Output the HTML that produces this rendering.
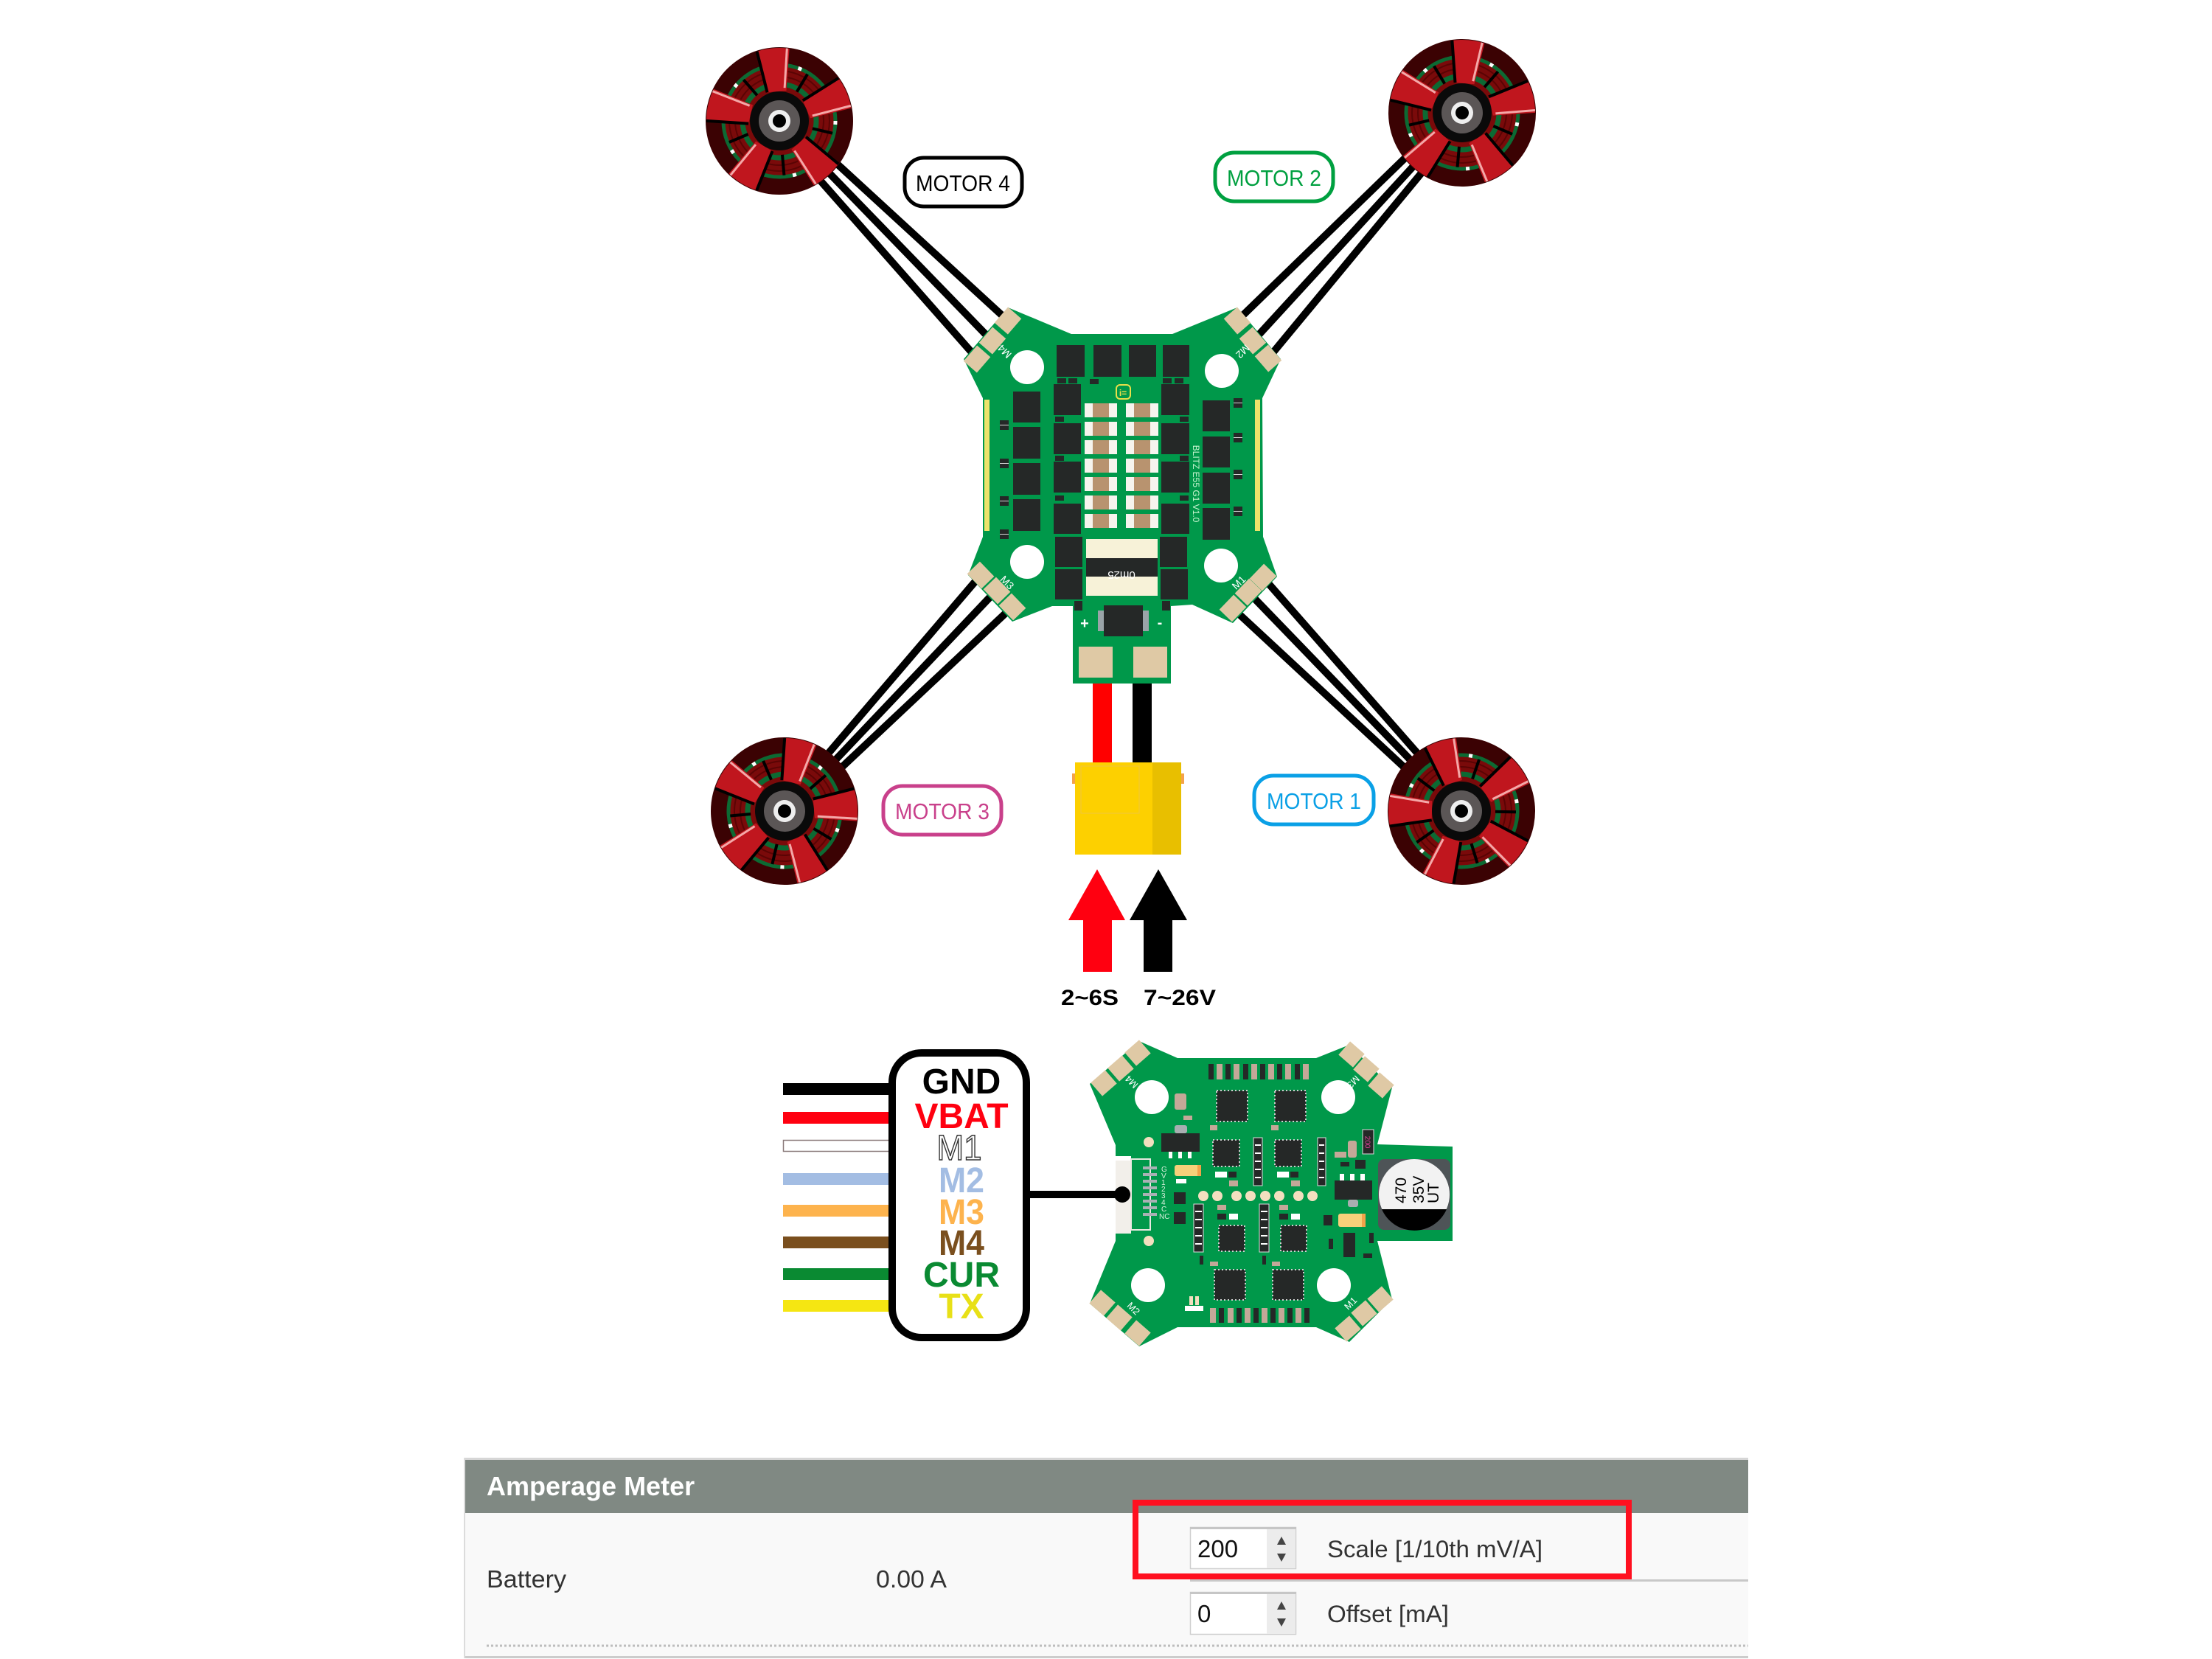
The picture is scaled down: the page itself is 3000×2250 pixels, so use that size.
<!DOCTYPE html>
<html><head><meta charset="utf-8"><style>
html,body{margin:0;padding:0;background:#fff;}
svg{display:block;}
</style></head><body>
<svg xmlns="http://www.w3.org/2000/svg" width="3000" height="2250" viewBox="0 0 3000 2250" font-family="Liberation Sans, Arial, sans-serif">
<defs>
<clipPath id="mclip"><circle r="99"/></clipPath>
<g id="blade">
  <polygon points="-13,-40 13,-40 23,-102 -23,-102" fill="#c0161e"/>
  <line x1="-13" y1="-40" x2="-23" y2="-102" stroke="#000" stroke-width="4"/>
  <line x1="11" y1="-44" x2="19" y2="-98" stroke="#f4a8a8" stroke-width="3"/>
</g>
<g id="motor">
  <circle r="100" fill="#3b0203"/>
  <circle r="78" fill="#7a0a0a"/>
  <circle r="68" fill="none" stroke="#5a0404" stroke-width="2"/>
  <circle r="60" fill="none" stroke="#5a0404" stroke-width="2"/>
  <circle r="76" fill="none" stroke="#0c6a33" stroke-width="5"/>
  <circle r="76" fill="none" stroke="#ffffff" stroke-width="5" stroke-dasharray="5 43"/>
  <circle r="50" fill="none" stroke="#0c6a33" stroke-width="7"/>
  <g stroke="#000" stroke-width="4">
    <line x1="0" y1="-46" x2="0" y2="-74" transform="rotate(31)"/>
    <line x1="0" y1="-46" x2="0" y2="-74" transform="rotate(103)"/>
    <line x1="0" y1="-46" x2="0" y2="-74" transform="rotate(175)"/>
    <line x1="0" y1="-46" x2="0" y2="-74" transform="rotate(247)"/>
    <line x1="0" y1="-46" x2="0" y2="-74" transform="rotate(319)"/>
  </g>
  <g clip-path="url(#mclip)">
    <use href="#blade" transform="rotate(-5)"/>
    <use href="#blade" transform="rotate(67)"/>
    <use href="#blade" transform="rotate(139)"/>
    <use href="#blade" transform="rotate(211)"/>
    <use href="#blade" transform="rotate(283)"/>
  </g>
  <circle r="40" fill="#0a0a0a"/>
  <circle r="28" fill="#5b5656"/>
  <circle r="15" fill="#eeeeee"/>
  <circle r="9" fill="#000"/>
</g>
<g id="cap">
  <rect x="0" y="0" width="44" height="19" fill="#f6f4ee"/>
  <rect x="11" y="0" width="22" height="19" fill="#b8936f"/>
</g>
</defs>

<g stroke="#000" stroke-width="10" fill="none">
  <line x1="1135" y1="222" x2="1367" y2="435"/>
  <line x1="1122" y1="232" x2="1346" y2="463"/>
  <line x1="1110" y1="242" x2="1325" y2="486"/>
  <line x1="1908" y1="212" x2="1678" y2="435"/>
  <line x1="1920" y1="222" x2="1699" y2="463"/>
  <line x1="1930" y1="232" x2="1720" y2="486"/>
  <line x1="1118" y1="1028" x2="1330" y2="780"/>
  <line x1="1128" y1="1036" x2="1352" y2="800"/>
  <line x1="1138" y1="1044" x2="1373" y2="823"/>
  <line x1="1908" y1="1044" x2="1672" y2="825"/>
  <line x1="1918" y1="1036" x2="1693" y2="803"/>
  <line x1="1928" y1="1028" x2="1713" y2="783"/>
</g>

<use href="#motor" transform="translate(1057,164)"/>
<use href="#motor" transform="translate(1983,153) rotate(10)"/>
<use href="#motor" transform="translate(1064,1100) rotate(18)"/>
<use href="#motor" transform="translate(1982,1100) rotate(-12)"/>

<rect x="1227" y="214" width="159" height="66" rx="26" fill="#fff" stroke="#000" stroke-width="5"/>
<text x="1306" y="259" font-size="31" text-anchor="middle" textLength="128" lengthAdjust="spacingAndGlyphs" fill="#000">MOTOR 4</text>
<rect x="1648" y="207" width="160" height="66" rx="26" fill="#fff" stroke="#00a040" stroke-width="5"/>
<text x="1728" y="252" font-size="31" text-anchor="middle" textLength="128" lengthAdjust="spacingAndGlyphs" fill="#00a040">MOTOR 2</text>
<rect x="1198" y="1066" width="160" height="66" rx="26" fill="#fff" stroke="#c9408b" stroke-width="5"/>
<text x="1278" y="1111" font-size="31" text-anchor="middle" textLength="128" lengthAdjust="spacingAndGlyphs" fill="#c9408b">MOTOR 3</text>
<rect x="1701" y="1052" width="162" height="66" rx="26" fill="#fff" stroke="#0aa0e6" stroke-width="5"/>
<text x="1782" y="1097" font-size="31" text-anchor="middle" textLength="128" lengthAdjust="spacingAndGlyphs" fill="#0aa0e6">MOTOR 1</text>

<rect x="1482" y="922" width="26" height="114" fill="#ff0000"/>
<rect x="1536" y="922" width="26" height="114" fill="#000"/>

<polygon points="1453,453 1367,417 1307,487 1333,540 1333,728 1313,780 1373,843 1427,822 1455,822 1455,927 1588,927 1588,822 1617,820 1672,845 1732,782 1713,728 1712,540 1737,487 1678,417 1590,453" fill="#00984a"/>
<g fill="#dfc9a5">
  <rect x="-14" y="-12" width="28" height="24" transform="translate(1367,435) rotate(-49)"/>
  <rect x="-14" y="-12" width="28" height="24" transform="translate(1346,462) rotate(-49)"/>
  <rect x="-14" y="-12" width="28" height="24" transform="translate(1325,487) rotate(-49)"/>
  <rect x="-14" y="-12" width="28" height="24" transform="translate(1678,435) rotate(49)"/>
  <rect x="-14" y="-12" width="28" height="24" transform="translate(1699,462) rotate(49)"/>
  <rect x="-14" y="-12" width="28" height="24" transform="translate(1720,486) rotate(49)"/>
  <rect x="-14" y="-12" width="28" height="24" transform="translate(1330,780) rotate(46)"/>
  <rect x="-14" y="-12" width="28" height="24" transform="translate(1352,801) rotate(46)"/>
  <rect x="-14" y="-12" width="28" height="24" transform="translate(1373,823) rotate(46)"/>
  <rect x="-14" y="-12" width="28" height="24" transform="translate(1713,783) rotate(-46)"/>
  <rect x="-14" y="-12" width="28" height="24" transform="translate(1693,803) rotate(-46)"/>
  <rect x="-14" y="-12" width="28" height="24" transform="translate(1672,825) rotate(-46)"/>
  <rect x="1463" y="877" width="46" height="42"/>
  <rect x="1537" y="877" width="46" height="42"/>
</g>
<g fill="#fff">
  <circle cx="1393" cy="498" r="23"/>
  <circle cx="1657" cy="503" r="23"/>
  <circle cx="1393" cy="762" r="23"/>
  <circle cx="1656" cy="767" r="23"/>
</g>
<rect x="1335" y="542" width="7" height="178" fill="#ece36a"/>
<rect x="1702" y="542" width="7" height="178" fill="#ece36a"/>
<g fill="#252827">
  <rect x="1433" y="468" width="38" height="43"/>
  <rect x="1483" y="468" width="38" height="43"/>
  <rect x="1531" y="468" width="37" height="43"/>
  <rect x="1577" y="468" width="36" height="43"/>
  <rect x="1374" y="531" width="37" height="42"/>
  <rect x="1374" y="579" width="37" height="43"/>
  <rect x="1374" y="628" width="37" height="43"/>
  <rect x="1374" y="677" width="37" height="43"/>
  <rect x="1429" y="521" width="37" height="42"/>
  <rect x="1429" y="574" width="37" height="42"/>
  <rect x="1429" y="626" width="37" height="42"/>
  <rect x="1429" y="683" width="37" height="41"/>
  <rect x="1431" y="728" width="37" height="41"/>
  <rect x="1431" y="772" width="37" height="41"/>
  <rect x="1575" y="521" width="38" height="42"/>
  <rect x="1575" y="574" width="38" height="42"/>
  <rect x="1575" y="626" width="38" height="42"/>
  <rect x="1575" y="683" width="38" height="41"/>
  <rect x="1573" y="728" width="37" height="41"/>
  <rect x="1574" y="772" width="37" height="41"/>
  <rect x="1631" y="543" width="37" height="42"/>
  <rect x="1631" y="592" width="37" height="42"/>
  <rect x="1631" y="641" width="37" height="42"/>
  <rect x="1631" y="689" width="37" height="43"/>
  <rect x="1434" y="513" width="12" height="7"/>
  <rect x="1449" y="513" width="12" height="7"/>
  <rect x="1478" y="514" width="12" height="7"/>
  <rect x="1577" y="513" width="12" height="7"/>
  <rect x="1593" y="513" width="12" height="7"/>
  <rect x="1431" y="565" width="12" height="7"/>
  <rect x="1431" y="618" width="12" height="7"/>
  <rect x="1431" y="672" width="12" height="7"/>
  <rect x="1600" y="565" width="12" height="7"/>
  <rect x="1600" y="618" width="12" height="7"/>
  <rect x="1600" y="672" width="12" height="7"/>
  <rect x="1356" y="570" width="12" height="13"/>
  <rect x="1356" y="622" width="12" height="13"/>
  <rect x="1356" y="673" width="12" height="13"/>
  <rect x="1356" y="718" width="12" height="13"/>
  <rect x="1673" y="540" width="12" height="13"/>
  <rect x="1673" y="587" width="12" height="13"/>
  <rect x="1673" y="637" width="12" height="13"/>
  <rect x="1673" y="687" width="12" height="13"/>
  <rect x="1457" y="815" width="11" height="13"/>
  <rect x="1576" y="815" width="11" height="13"/>
</g>
<g stroke="#d8d8d8" stroke-width="1">
  <line x1="1356" y1="576.5" x2="1368" y2="576.5"/><line x1="1356" y1="628.5" x2="1368" y2="628.5"/>
  <line x1="1356" y1="679.5" x2="1368" y2="679.5"/><line x1="1356" y1="724.5" x2="1368" y2="724.5"/>
  <line x1="1673" y1="546.5" x2="1685" y2="546.5"/><line x1="1673" y1="593.5" x2="1685" y2="593.5"/>
  <line x1="1673" y1="643.5" x2="1685" y2="643.5"/><line x1="1673" y1="693.5" x2="1685" y2="693.5"/>
</g>
<use href="#cap" x="1471" y="547"/><use href="#cap" x="1527" y="547"/>
<use href="#cap" x="1471" y="572"/><use href="#cap" x="1527" y="572"/>
<use href="#cap" x="1471" y="597"/><use href="#cap" x="1527" y="597"/>
<use href="#cap" x="1471" y="622"/><use href="#cap" x="1527" y="622"/>
<use href="#cap" x="1471" y="647"/><use href="#cap" x="1527" y="647"/>
<use href="#cap" x="1471" y="672"/><use href="#cap" x="1527" y="672"/>
<use href="#cap" x="1471" y="697"/><use href="#cap" x="1527" y="697"/>
<rect x="1473" y="731" width="97" height="26" fill="#f7f2d8"/>
<rect x="1473" y="757" width="97" height="25" fill="#252827"/>
<rect x="1473" y="782" width="97" height="26" fill="#f7f2d8"/>
<text x="1521" y="763" font-size="15" fill="#fff" text-anchor="middle" transform="rotate(180,1521,769)">0m25</text>
<rect x="1489" y="828" width="8" height="28" fill="#9aa4a8"/>
<rect x="1550" y="828" width="8" height="28" fill="#9aa4a8"/>
<rect x="1497" y="821" width="53" height="42" fill="#252827"/>
<text x="1471" y="852" font-size="20" fill="#fff" text-anchor="middle" font-weight="bold">+</text>
<text x="1573" y="851" font-size="20" fill="#fff" text-anchor="middle" font-weight="bold">-</text>
<rect x="1514" y="522" width="19" height="19" rx="5" fill="none" stroke="#e9e04a" stroke-width="2"/>
<text x="1523" y="537" font-size="12" fill="#e9e04a" text-anchor="middle" font-weight="bold">i=</text>
<text x="1618" y="656" font-size="12" fill="#c8f5d0" text-anchor="middle" transform="rotate(90,1618,656)">BLITZ E55 G1 V1.0</text>
<text x="1363" y="480" font-size="14" fill="#fff" text-anchor="middle" transform="rotate(225,1363,476)">M4</text>
<text x="1685" y="480" font-size="14" fill="#fff" text-anchor="middle" transform="rotate(135,1685,476)">M2</text>
<text x="1366" y="795" font-size="14" fill="#fff" text-anchor="middle" transform="rotate(45,1366,790)">M3</text>
<text x="1680" y="795" font-size="14" fill="#fff" text-anchor="middle" transform="rotate(-45,1680,790)">M1</text>

<rect x="1458" y="1034" width="105" height="125" fill="#fdd000"/>
<rect x="1563" y="1034" width="39" height="125" fill="#e8bf00"/>
<rect x="1454" y="1049" width="4" height="14" fill="#f4a34a"/>
<rect x="1602" y="1049" width="4" height="14" fill="#f4a34a"/>
<rect x="1466" y="1039" width="79" height="64" fill="none" stroke="#efc640" stroke-width="1"/>

<polygon points="1488,1179 1526,1248 1508,1248 1508,1318 1469,1318 1469,1248 1449,1248" fill="#ff0010"/>
<polygon points="1571,1179 1610,1248 1590,1248 1590,1318 1551,1318 1551,1248 1532,1248" fill="#000"/>
<text x="1439" y="1363" font-size="30" font-weight="bold" textLength="78" lengthAdjust="spacingAndGlyphs">2~6S</text>
<text x="1551" y="1363" font-size="30" font-weight="bold" textLength="98" lengthAdjust="spacingAndGlyphs">7~26V</text>

<rect x="1062" y="1469" width="145" height="16" fill="#000"/>
<rect x="1062" y="1508" width="145" height="16" fill="#ff0010"/>
<rect x="1062.5" y="1546.5" width="144" height="15" fill="#fff" stroke="#8a7a7a" stroke-width="1.5"/>
<rect x="1062" y="1591" width="145" height="16" fill="#a3bde3"/>
<rect x="1062" y="1634" width="145" height="16" fill="#fdb34d"/>
<rect x="1062" y="1677" width="145" height="16" fill="#7a4f1e"/>
<rect x="1062" y="1720" width="145" height="16" fill="#0a8a32"/>
<rect x="1062" y="1763" width="145" height="16" fill="#f5e612"/>
<rect x="1210" y="1428" width="182" height="386" rx="40" fill="#fff" stroke="#000" stroke-width="10"/>
<g font-size="48" font-weight="bold" text-anchor="middle">
  <text x="1304" y="1483" fill="#000">GND</text>
  <text x="1304" y="1530" fill="#ff0010">VBAT</text>
  <text x="1301" y="1573" fill="#fff" stroke="#333" stroke-width="1.5" font-weight="normal" textLength="61" lengthAdjust="spacingAndGlyphs">M1</text>
  <text x="1304" y="1617" fill="#a3bde3" textLength="62" lengthAdjust="spacingAndGlyphs">M2</text>
  <text x="1304" y="1660" fill="#fdb34d" textLength="62" lengthAdjust="spacingAndGlyphs">M3</text>
  <text x="1304" y="1702" fill="#7a4f1e" textLength="62" lengthAdjust="spacingAndGlyphs">M4</text>
  <text x="1304" y="1745" fill="#0a8a32">CUR</text>
  <text x="1304" y="1788" fill="#e8e017">TX</text>
</g>
<line x1="1397" y1="1620" x2="1522" y2="1620" stroke="#000" stroke-width="10"/>

<polygon points="1545,1412 1478,1470 1513,1553 1513,1683 1478,1768 1545,1826 1597,1800 1785,1800 1830,1820 1888,1762 1868,1683 1970,1683 1970,1555 1868,1552 1888,1475 1830,1417 1785,1435 1597,1435" fill="#00984a"/>
<g fill="#dfc9a5">
  <rect x="-13" y="-12" width="26" height="24" transform="translate(1543,1428) rotate(-41)"/>
  <rect x="-13" y="-12" width="26" height="24" transform="translate(1520,1449) rotate(-41)"/>
  <rect x="-13" y="-12" width="26" height="24" transform="translate(1497,1469) rotate(-41)"/>
  <rect x="-13" y="-12" width="26" height="24" transform="translate(1833,1430) rotate(41)"/>
  <rect x="-13" y="-12" width="26" height="24" transform="translate(1853,1450) rotate(41)"/>
  <rect x="-13" y="-12" width="26" height="24" transform="translate(1873,1472) rotate(41)"/>
  <rect x="-13" y="-12" width="26" height="24" transform="translate(1495,1767) rotate(41)"/>
  <rect x="-13" y="-12" width="26" height="24" transform="translate(1518,1787) rotate(41)"/>
  <rect x="-13" y="-12" width="26" height="24" transform="translate(1543,1808) rotate(41)"/>
  <rect x="-13" y="-12" width="26" height="24" transform="translate(1872,1762) rotate(-41)"/>
  <rect x="-13" y="-12" width="26" height="24" transform="translate(1850,1781) rotate(-41)"/>
  <rect x="-13" y="-12" width="26" height="24" transform="translate(1828,1802) rotate(-41)"/>
</g>
<g fill="#fff">
  <circle cx="1562" cy="1488" r="23"/>
  <circle cx="1815" cy="1488" r="23"/>
  <circle cx="1557" cy="1743" r="23"/>
  <circle cx="1809" cy="1743" r="23"/>
</g>
<g font-size="13" fill="#fff" text-anchor="middle">
  <text x="1535" y="1471" transform="rotate(225,1535,1467)">M4</text>
  <text x="1835" y="1471" transform="rotate(135,1835,1467)">M3</text>
  <text x="1537" y="1779" transform="rotate(45,1537,1775)">M2</text>
  <text x="1832" y="1772" transform="rotate(-45,1832,1768)">M1</text>
</g>
<g>
  <rect x="1639" y="1443" width="7" height="21" fill="#252827"/><rect x="1650" y="1443" width="8" height="21" fill="#c4a898"/>
  <rect x="1662" y="1443" width="7" height="21" fill="#252827"/><rect x="1673" y="1443" width="8" height="21" fill="#c4a898"/>
  <rect x="1686" y="1443" width="7" height="21" fill="#252827"/><rect x="1697" y="1443" width="8" height="21" fill="#c4a898"/>
  <rect x="1709" y="1443" width="7" height="21" fill="#252827"/><rect x="1720" y="1443" width="8" height="21" fill="#c4a898"/>
  <rect x="1732" y="1443" width="7" height="21" fill="#252827"/><rect x="1743" y="1443" width="8" height="21" fill="#c4a898"/>
  <rect x="1756" y="1443" width="7" height="21" fill="#252827"/><rect x="1767" y="1443" width="8" height="21" fill="#c4a898"/>
  <rect x="1641" y="1774" width="8" height="20" fill="#c4a898"/><rect x="1653" y="1774" width="7" height="20" fill="#252827"/>
  <rect x="1665" y="1774" width="8" height="20" fill="#c4a898"/><rect x="1677" y="1774" width="7" height="20" fill="#252827"/>
  <rect x="1688" y="1774" width="8" height="20" fill="#c4a898"/><rect x="1700" y="1774" width="7" height="20" fill="#252827"/>
  <rect x="1711" y="1774" width="8" height="20" fill="#c4a898"/><rect x="1723" y="1774" width="7" height="20" fill="#252827"/>
  <rect x="1734" y="1774" width="8" height="20" fill="#c4a898"/><rect x="1746" y="1774" width="7" height="20" fill="#252827"/>
  <rect x="1757" y="1774" width="8" height="20" fill="#c4a898"/><rect x="1769" y="1774" width="7" height="20" fill="#252827"/>
</g>
<g fill="#252827" stroke="#d0d0d0" stroke-width="2" stroke-dasharray="2 3">
  <rect x="1650" y="1479" width="42" height="42"/>
  <rect x="1729" y="1479" width="42" height="42"/>
  <rect x="1645" y="1546" width="36" height="36"/>
  <rect x="1729" y="1546" width="36" height="36"/>
  <rect x="1653" y="1662" width="35" height="35"/>
  <rect x="1737" y="1662" width="35" height="35"/>
  <rect x="1647" y="1722" width="42" height="41"/>
  <rect x="1726" y="1722" width="42" height="41"/>
</g>
<g fill="#252827" stroke="#e0e0e0" stroke-width="1">
  <rect x="1700" y="1543" width="12" height="65"/>
  <rect x="1787" y="1543" width="11" height="65"/>
  <rect x="1619" y="1633" width="13" height="65"/>
  <rect x="1708" y="1633" width="13" height="65"/>
</g>
<g fill="#fff">
  <rect x="1702" y="1552" width="8" height="2"/><rect x="1702" y="1563" width="8" height="2"/><rect x="1702" y="1574" width="8" height="2"/><rect x="1702" y="1585" width="8" height="2"/><rect x="1702" y="1596" width="8" height="2"/>
  <rect x="1789" y="1552" width="7" height="2"/><rect x="1789" y="1563" width="7" height="2"/><rect x="1789" y="1574" width="7" height="2"/><rect x="1789" y="1585" width="7" height="2"/><rect x="1789" y="1596" width="7" height="2"/>
  <rect x="1621" y="1642" width="9" height="2"/><rect x="1621" y="1653" width="9" height="2"/><rect x="1621" y="1664" width="9" height="2"/><rect x="1621" y="1675" width="9" height="2"/><rect x="1621" y="1686" width="9" height="2"/>
  <rect x="1710" y="1642" width="9" height="2"/><rect x="1710" y="1653" width="9" height="2"/><rect x="1710" y="1664" width="9" height="2"/><rect x="1710" y="1675" width="9" height="2"/><rect x="1710" y="1686" width="9" height="2"/>
</g>
<g fill="#f3dfbf">
  <circle cx="1632" cy="1622" r="7"/><circle cx="1651" cy="1622" r="7"/><circle cx="1677" cy="1622" r="7"/><circle cx="1696" cy="1622" r="7"/>
  <circle cx="1716" cy="1622" r="7"/><circle cx="1735" cy="1622" r="7"/><circle cx="1761" cy="1622" r="7"/><circle cx="1780" cy="1622" r="7"/>
  <circle cx="1558" cy="1549" r="7"/><circle cx="1558" cy="1683" r="7"/>
</g>
<rect x="1593" y="1483" width="16" height="22" rx="3" fill="#c4a898"/>
<rect x="1605" y="1513" width="12" height="6" fill="#c4a898"/>
<rect x="1593" y="1526" width="17" height="11" rx="3" fill="#a8aeb0"/>
<rect x="1575" y="1537" width="52" height="25" fill="#252827"/>
<rect x="1585" y="1562" width="5" height="9" fill="#fff"/><rect x="1598" y="1562" width="5" height="9" fill="#fff"/><rect x="1611" y="1562" width="5" height="9" fill="#fff"/>
<rect x="1593" y="1580" width="36" height="15" rx="3" fill="#f7d07a"/>
<rect x="1624" y="1580" width="5" height="15" fill="#f2a24a"/>
<rect x="1595" y="1599" width="14" height="6" fill="#fff"/>
<rect x="1592" y="1617" width="16" height="16" fill="#252827"/>
<rect x="1592" y="1644" width="16" height="16" fill="#252827"/>
<rect x="1648" y="1589" width="16" height="8" fill="#fff"/><rect x="1666" y="1589" width="11" height="8" fill="#252827"/>
<rect x="1732" y="1589" width="16" height="8" fill="#fff"/><rect x="1750" y="1589" width="11" height="8" fill="#252827"/>
<rect x="1667" y="1601" width="12" height="8" fill="#c4a898"/><rect x="1751" y="1601" width="12" height="8" fill="#c4a898"/>
<rect x="1651" y="1646" width="12" height="8" fill="#252827"/><rect x="1667" y="1646" width="12" height="8" fill="#fff"/>
<rect x="1735" y="1646" width="12" height="8" fill="#252827"/><rect x="1751" y="1646" width="12" height="8" fill="#fff"/>
<rect x="1651" y="1634" width="12" height="7" fill="#c4a898"/><rect x="1735" y="1634" width="12" height="7" fill="#c4a898"/>
<rect x="1641" y="1526" width="10" height="7" fill="#c4a898"/><rect x="1724" y="1526" width="10" height="7" fill="#c4a898"/>
<rect x="1627" y="1703" width="5" height="12" fill="#252827"/><rect x="1712" y="1703" width="5" height="12" fill="#252827"/>
<rect x="1641" y="1711" width="11" height="6" fill="#c4a898"/><rect x="1725" y="1711" width="11" height="6" fill="#c4a898"/>
<rect x="1613" y="1758" width="5" height="12" fill="#f3dfbf"/><rect x="1621" y="1758" width="5" height="12" fill="#f3dfbf"/>
<rect x="1607" y="1771" width="25" height="7" fill="#fff"/>
<rect x="1810" y="1562" width="16" height="8" fill="#c4a898"/>
<rect x="1828" y="1547" width="12" height="23" rx="3" fill="#c4a898"/>
<rect x="1848" y="1532" width="15" height="33" fill="#252827" stroke="#ddd" stroke-width="1"/>
<text x="1855.5" y="1553" font-size="10" fill="#e0409a" text-anchor="middle" transform="rotate(90,1855.5,1549)">200</text>
<rect x="1818" y="1576" width="12" height="6" fill="#252827"/><rect x="1838" y="1573" width="14" height="12" fill="#252827"/>
<rect x="1817" y="1592" width="6" height="9" fill="#fff"/><rect x="1831" y="1592" width="6" height="9" fill="#fff"/><rect x="1845" y="1592" width="6" height="9" fill="#fff"/>
<rect x="1810" y="1601" width="51" height="26" fill="#252827"/>
<rect x="1828" y="1627" width="14" height="10" rx="3" fill="#a8aeb0"/>
<rect x="1815" y="1646" width="37" height="18" rx="3" fill="#f7d07a"/>
<rect x="1847" y="1646" width="5" height="18" fill="#f2a24a"/>
<rect x="1795" y="1648" width="12" height="14" fill="#252827"/>
<rect x="1822" y="1672" width="16" height="33" fill="#252827"/>
<rect x="1802" y="1680" width="6" height="14" fill="#252827"/><rect x="1857" y="1672" width="6" height="14" fill="#252827"/><rect x="1849" y="1700" width="12" height="6" fill="#252827"/>
<rect x="1869" y="1572" width="98" height="96" rx="8" fill="#4e5457"/>
<circle cx="1918" cy="1620" r="48" fill="#f2f2f2"/>
<path d="M1874,1640 A48,48 0 0 0 1962,1640 Z" fill="#000"/>
<g font-size="21" fill="#000">
  <text transform="translate(1907,1632) rotate(-90)">470</text>
  <text transform="translate(1931,1632) rotate(-90)">35V</text>
  <text transform="translate(1951,1632) rotate(-90)">UT</text>
</g>
<rect x="1513" y="1568" width="21" height="105" fill="#f2efea"/>
<rect x="1513" y="1568" width="21" height="6" fill="#fff"/>
<rect x="1534" y="1572" width="26" height="96" fill="none" stroke="#e8e8e0" stroke-width="2"/>
<g fill="#a9b1b4">
  <rect x="1550" y="1582" width="19" height="4"/><rect x="1550" y="1591" width="19" height="4"/>
  <rect x="1550" y="1600" width="19" height="4"/><rect x="1550" y="1609" width="19" height="4"/>
  <rect x="1550" y="1618" width="19" height="4"/><rect x="1550" y="1627" width="19" height="4"/>
  <rect x="1550" y="1636" width="19" height="4"/><rect x="1550" y="1645" width="19" height="4"/>
</g>
<g font-size="10" fill="#d8f0dc">
  <text x="1575" y="1589">G</text><text x="1575" y="1598">V</text><text x="1575" y="1607">1</text><text x="1575" y="1616">2</text>
  <text x="1575" y="1625">3</text><text x="1575" y="1634">4</text><text x="1575" y="1643">C</text><text x="1572" y="1653">NC</text>
</g>
<circle cx="1522" cy="1620" r="11" fill="#000"/>

<rect x="631" y="1977" width="1740" height="3" fill="#d6d6d6"/>
<rect x="631" y="1980" width="1740" height="72" fill="#808983"/>
<rect x="631" y="2052" width="1740" height="195" fill="#f9f9f9"/>
<rect x="629" y="1977" width="2" height="272" fill="#dcdcdc"/>
<rect x="631" y="2246" width="1740" height="3" fill="#cccccc"/>
<line x1="660" y1="2232" x2="2371" y2="2232" stroke="#bdbdbd" stroke-width="3" stroke-dasharray="3 3"/>
<rect x="1614" y="2142" width="757" height="3" fill="#c8c8c8"/>
<text x="660" y="2028" font-size="36" font-weight="bold" fill="#fff">Amperage Meter</text>
<text x="660" y="2153" font-size="33" fill="#333" textLength="108" lengthAdjust="spacingAndGlyphs">Battery</text>
<text x="1188" y="2153" font-size="33" fill="#333" textLength="96" lengthAdjust="spacingAndGlyphs">0.00 A</text>
<rect x="1614.5" y="2071.5" width="143" height="56" fill="#fff" stroke="#cfcfcf" stroke-width="1.5"/>
<rect x="1614" y="2071" width="144" height="3" fill="#c6c6c6"/>
<rect x="1718" y="2074" width="39" height="53" fill="#ececec"/>
<polygon points="1738,2084 1744,2095 1732,2095" fill="#444"/>
<polygon points="1738,2118 1744,2107 1732,2107" fill="#444"/>
<text x="1624" y="2112" font-size="33" fill="#111">200</text>
<text x="1800" y="2112" font-size="32" fill="#333" textLength="292" lengthAdjust="spacingAndGlyphs">Scale [1/10th mV/A]</text>
<rect x="1614.5" y="2159.5" width="143" height="57" fill="#fff" stroke="#cfcfcf" stroke-width="1.5"/>
<rect x="1614" y="2159" width="144" height="3" fill="#c6c6c6"/>
<rect x="1718" y="2162" width="39" height="54" fill="#ececec"/>
<polygon points="1738,2172 1744,2183 1732,2183" fill="#444"/>
<polygon points="1738,2206 1744,2195 1732,2195" fill="#444"/>
<text x="1624" y="2200" font-size="33" fill="#111">0</text>
<text x="1800" y="2200" font-size="32" fill="#333" textLength="165" lengthAdjust="spacingAndGlyphs">Offset [mA]</text>
<rect x="1540" y="2038" width="669" height="100" fill="none" stroke="#ff1020" stroke-width="8"/>
</svg>
</body></html>
